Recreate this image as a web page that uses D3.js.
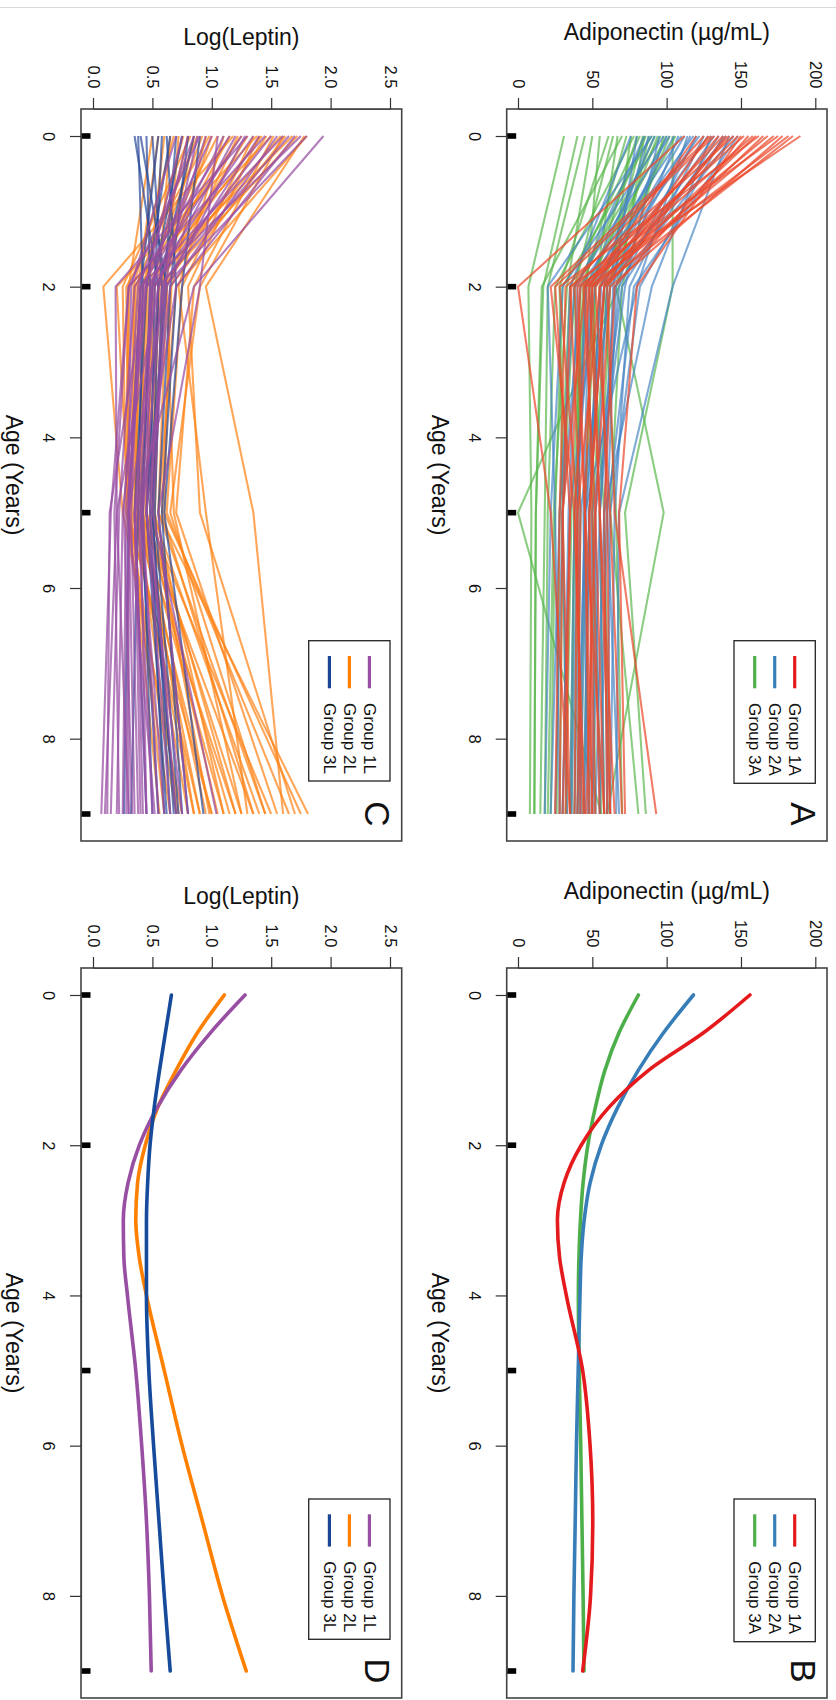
<!DOCTYPE html>
<html><head><meta charset="utf-8">
<script src="https://cdn.jsdelivr.net/npm/d3@7"></script>
<style>
body{margin:0;background:#fff}
svg{display:block}
text{font-family:"Liberation Sans",Arial,Helvetica,sans-serif;fill:#111}
</style>
</head><body>
<svg id="chart" width="836" height="1700"></svg>
<script>
// ---------------- DATA ----------------
const visitAges = [0, 2, 5, 9];
const ageTicks = [0, 2, 4, 6, 8];
const rugAges = [0, 2, 5, 9];
const adipoTicks = [0, 50, 100, 150, 200];
const adipoTickLabels = ["0", "50", "100", "150", "200"];
const leptinTicks = [0, 0.5, 1, 1.5, 2, 2.5];
const leptinTickLabels = ["0.0", "0.5", "1.0", "1.5", "2.0", "2.5"];

const adipoGroups = ["Group 1A", "Group 2A", "Group 3A"];
const leptinGroups = ["Group 1L", "Group 2L", "Group 3L"];

// individual trajectories: values at visitAges
const group1A = [
  [190,40,45,50],[185,55,60,62],[182,48,38,45],[178,62,52,58],[175,35,42,40],
  [172,50,55,65],[168,45,30,35],[165,58,48,52],[162,28,40,38],[160,52,62,70],
  [158,42,35,30],[155,65,58,60],[152,38,45,48],[150,80,68,72],[148,46,50,55],
  [145,32,28,25],[142,55,40,42],[140,60,65,93],[138,44,52,46],[135,50,45,58],
  [132,25,35,32],[128,58,48,50],[125,36,30,28],[120,48,55,62],[112,0,22,35],
  [130,22,38,44]
];
const group2A = [
  [148,78,60,55],[145,65,55,50],[142,104,68,66],[140,58,45,40],[138,82,62,60],
  [135,70,50,48],[132,62,42,38],[130,90,58,52],[128,55,48,45],[125,75,65,62],
  [122,50,38,35],[120,68,55,58],[118,45,40,42],[116,60,52,50],[114,80,45,40],
  [112,52,35,30],[110,42,30,25],[108,66,60,68],[105,48,44,47],[102,38,28,22],
  [100,58,48,44],[98,30,22,18],[95,72,52,55],[92,46,40,36],[90,20,25,28],
  [88,56,46,42],[85,40,34,30],[80,64,58,60],[76,35,30,33]
];
const group3A = [
  [106,52,45,48],[104,104,72,86],[102,60,50,52],[100,45,38,35],[98,70,62,81],
  [96,38,30,28],[94,55,48,44],[92,48,58,62],[90,30,25,22],[88,66,98,60],
  [86,42,40,38],[84,58,66,70],[85,68,0,56],[82,35,28,26],[80,50,45,42],
  [78,25,20,18],[76,62,55,58],[73,44,36,32],[70,16,12,11],[67,52,50,56],
  [64,38,42,40],[61,28,30,33],[55,46,38,36],[50,33,24,20],[45,20,18,15],
  [40,17,12,11],[31,7,9,8]
];

const group1L = [
  [1.94,0.85,0.35,0.45],[1.80,0.60,0.30,0.30],[1.75,0.45,0.25,0.20],[1.70,0.70,0.40,0.60],
  [1.65,0.55,0.20,0.10],[1.60,0.40,0.30,0.35],[1.55,0.65,0.45,0.75],[1.50,0.50,0.35,0.40],
  [1.45,0.30,0.15,0.07],[1.40,0.58,0.42,0.55],[1.35,0.45,0.28,0.25],[1.30,0.19,0.20,0.30],
  [1.28,0.62,0.50,1.04],[1.25,0.40,0.32,0.38],[1.20,0.52,0.38,0.50],[1.15,0.35,0.22,0.15],
  [1.10,0.48,0.45,0.65],[1.05,0.90,0.55,0.80],[1.00,0.42,0.30,0.28],[0.95,0.55,0.40,0.45],
  [0.90,0.30,0.18,0.22],[0.88,0.60,0.48,0.70],[0.85,0.38,0.26,0.33],[0.80,0.50,0.36,0.42],
  [0.75,0.44,0.14,0.12],[0.70,0.32,0.30,0.52]
];
const group2L = [
  [1.80,0.70,0.55,1.81],[1.78,0.95,1.35,1.60],[1.72,0.55,0.45,1.50],[1.68,0.40,0.35,1.20],
  [1.62,0.65,0.60,1.75],[1.58,0.50,0.40,1.35],[1.52,0.85,0.70,1.55],[1.50,0.30,0.28,1.00],
  [1.46,0.60,0.50,1.40],[1.42,0.45,0.38,1.10],[1.38,0.20,0.30,0.90],[1.35,0.75,0.62,1.65],
  [1.30,0.52,0.44,1.25],[1.25,0.35,0.33,0.85],[1.22,0.62,0.55,1.45],[1.18,0.087,0.25,0.75],
  [1.15,0.48,0.42,1.15],[1.10,0.72,0.95,1.30],[1.05,0.40,0.36,1.00],[1.00,0.56,0.48,1.20],
  [0.98,0.28,0.30,0.70],[0.95,0.66,0.58,1.35],[0.92,0.44,0.40,0.95],[0.88,0.36,0.35,0.80],
  [0.85,0.58,0.52,1.10],[0.82,0.25,0.28,0.65],[0.80,0.50,0.45,1.05],[0.76,0.42,0.38,0.90],
  [0.72,0.62,0.68,1.25],[0.68,0.34,0.32,0.60],[0.65,0.55,0.50,0.98],[0.60,0.46,0.42,0.85],
  [0.55,0.38,0.36,0.72],[0.50,0.30,0.30,0.56],[1.40,0.80,0.90,1.70],[1.60,0.90,0.65,1.45]
];
const group3L = [
  [0.90,0.75,0.60,0.93],[0.85,0.55,0.45,0.70],[0.80,0.65,0.55,0.80],[0.75,0.50,0.40,0.55],
  [0.70,0.60,0.50,0.65],[0.65,0.45,0.35,0.45],[0.62,0.70,0.58,0.75],[0.58,0.52,0.48,0.60],
  [0.55,0.40,0.30,0.26],[0.50,0.58,0.52,0.72],[0.45,0.48,0.42,0.50],[0.40,0.62,0.45,0.62],
  [0.38,0.42,0.38,0.32],[0.35,0.55,0.50,0.68]
];

// fitted mean curves
const fitAges = [0, 0.5, 1, 1.5, 2, 2.5, 3, 3.5, 4, 5, 6, 7, 8, 9];
const fit1A = [156, 125, 88, 61, 42.5, 31, 26.5, 28, 32.5, 43.5, 48.5, 50.3, 48.8, 43.5];
const fit2A = [118, 98, 81, 67, 56, 48.5, 44.5, 42.5, 41.7, 40.5, 39.3, 38.5, 37.6, 37];
const fit3A = [81, 68, 58.5, 52, 47, 43.8, 42, 41, 40.6, 41.2, 42.2, 43, 43.8, 44.4];
const fit1L = [1.28, 0.99, 0.74, 0.54, 0.39, 0.295, 0.255, 0.26, 0.29, 0.36, 0.41, 0.45, 0.475, 0.49];
const fit2L = [1.105, 0.88, 0.70, 0.545, 0.44, 0.375, 0.36, 0.39, 0.45, 0.60, 0.75, 0.92, 1.09, 1.29];
const fit3L = [0.66, 0.61, 0.56, 0.515, 0.48, 0.46, 0.45, 0.45, 0.45, 0.47, 0.51, 0.555, 0.60, 0.65];

// ---------------- DRAWING ----------------
const svg = d3.select("#chart");
svg.append("line").attr("x1",0).attr("x2",836).attr("y1",7.5).attr("y2",7.5)
  .attr("stroke","#d9d9d9").attr("stroke-width",1);

const FONT_TICK = 16.5;

function panel(cfg) {
  const g = svg.append("g");
  const x = d3.scaleLinear().domain(cfg.valDomain).range(cfg.valRange);
  const y = d3.scaleLinear().domain([0, 9]).range([cfg.top + 27, cfg.bottom - 27]);
  const [L, R, T, B] = [cfg.left, cfg.right, cfg.top, cfg.bottom];

  const clip = "clip" + cfg.letter;
  g.append("clipPath").attr("id", clip).append("rect")
    .attr("x", L).attr("y", T).attr("width", R - L).attr("height", B - T);
  const lg = g.append("g").attr("clip-path", `url(#${clip})`);

  if (cfg.spaghetti) {
    const line = d3.line().x(d => x(d[1])).y(d => y(d[0]));
    cfg.spaghetti.forEach(s => {
      lg.append("g").selectAll("path").data(s.data).join("path")
        .attr("d", row => line(row.map((v, i) => [visitAges[i], v])))
        .attr("fill", "none").attr("stroke", s.color)
        .attr("stroke-opacity", s.opacity).attr("stroke-width", 2.1)
        .attr("stroke-linejoin", "round");
    });
  }
  if (cfg.fits) {
    const line = d3.line().curve(d3.curveMonotoneY)
      .x(d => x(d[1])).y(d => y(d[0]));
    cfg.fits.forEach(f => {
      lg.append("path").attr("d", line(fitAges.map((a, i) => [a, f.data[i]])))
        .attr("fill", "none").attr("stroke", f.color).attr("stroke-width", 3.6)
        .attr("stroke-linecap", "round");
    });
  }

  // rug marks
  g.append("g").selectAll("rect").data(rugAges).join("rect")
    .attr("x", L).attr("y", d => y(d) - 2.8).attr("width", 9.5).attr("height", 5.6)
    .attr("fill", "#000");

  // box
  g.append("rect").attr("x", L).attr("y", T).attr("width", R - L).attr("height", B - T)
    .attr("fill", "none").attr("stroke", "#444").attr("stroke-width", 1.6);

  // value axis (top)
  const ax = d3.axisTop(x).tickValues(cfg.ticks).tickSize(11).tickSizeOuter(0)
    .tickFormat((d, i) => cfg.tickLabels[i]);
  const axg = g.append("g").attr("transform", `translate(0,${T})`).call(ax);
  axg.select(".domain").attr("stroke", "#444").attr("stroke-width", 1.2);
  axg.selectAll(".tick line").attr("stroke", "#333").attr("stroke-width", 1.2);
  axg.selectAll(".tick text").attr("x", 0).attr("y", 0).attr("dy", null)
    .attr("transform", "translate(0,-20.5) rotate(90)")
    .attr("text-anchor", "end").attr("dominant-baseline", "central")
    .style("font-size", FONT_TICK + "px").style("font-family", '"Liberation Sans",Arial,sans-serif')
    .attr("fill", "#111");

  // age axis (left)
  const ay = d3.axisLeft(y).tickValues(ageTicks).tickSize(11).tickSizeOuter(0);
  const ayg = g.append("g").attr("transform", `translate(${L},0)`).call(ay);
  ayg.select(".domain").attr("stroke", "#444").attr("stroke-width", 1.2);
  ayg.selectAll(".tick line").attr("stroke", "#333").attr("stroke-width", 1.2);
  ayg.selectAll(".tick text").attr("x", 0).attr("y", 0).attr("dy", null)
    .attr("transform", "translate(-32.2,0) rotate(90)")
    .attr("text-anchor", "middle").attr("dominant-baseline", "central")
    .style("font-size", FONT_TICK + "px").style("font-family", '"Liberation Sans",Arial,sans-serif')
    .attr("fill", "#111");

  // titles
  g.append("text").attr("x", (L + R) / 2).attr("y", T - cfg.titleOffset)
    .attr("text-anchor", "middle").style("font-size", "23px").text(cfg.title);
  g.append("text").attr("transform", `translate(${L - 75.2},${(T + B) / 2}) rotate(90)`)
    .attr("text-anchor", "middle").style("font-size", "23px").text("Age (Years)");

  // legend
  const lgX = R - cfg.legendRightGap, lgW = 81.3, lgY = T + cfg.legendTop, lgH = cfg.legendH;
  g.append("rect").attr("x", lgX - lgW).attr("y", lgY).attr("width", lgW).attr("height", lgH)
    .attr("fill", "#fff").attr("stroke", "#222").attr("stroke-width", 1.3);
  cfg.legend.forEach((it, i) => {
    const cx = lgX - 20.6 - i * 20;
    g.append("line").attr("x1", cx).attr("x2", cx).attr("y1", lgY + 15.3).attr("y2", lgY + 47.6)
      .attr("stroke", it.color).attr("stroke-width", 3.2);
    g.append("text").attr("transform", `translate(${cx},${lgY + 62.3}) rotate(90)`)
      .attr("text-anchor", "start").attr("dominant-baseline", "central")
      .style("font-size", "17px").text(it.name);
  });

  // panel letter
  g.append("text").attr("transform", `translate(${R - 24},${y(9)}) rotate(90)`)
    .attr("text-anchor", "middle").attr("dominant-baseline", "central")
    .style("font-size", "35px").text(cfg.letter);
}

const adipoDomain = [0, 200], leptinDomain = [0, 2.5];
const adipoRange = [518, 815.3], leptinRange = [93, 390];

panel({
  letter: "A", left: 506.7, right: 827, top: 109, bottom: 841,
  valDomain: adipoDomain, valRange: adipoRange, ticks: adipoTicks, tickLabels: adipoTickLabels,
  title: "Adiponectin (\u00b5g/mL)", titleOffset: 69.5,
  legendRightGap: 11.7, legendTop: 531.7, legendH: 142.6,
  spaghetti: [
    { data: group3A, color: "#55b548", opacity: 0.68 },
    { data: group2A, color: "#4683c4", opacity: 0.68 },
    { data: group1A, color: "#ec4a2c", opacity: 0.72 }
  ],
  legend: [
    { name: adipoGroups[0], color: "#e41a1c" },
    { name: adipoGroups[1], color: "#377eb8" },
    { name: adipoGroups[2], color: "#4daf4a" }
  ]
});
panel({
  letter: "B", left: 506.7, right: 827, top: 968, bottom: 1698,
  valDomain: adipoDomain, valRange: adipoRange, ticks: adipoTicks, tickLabels: adipoTickLabels,
  title: "Adiponectin (\u00b5g/mL)", titleOffset: 69.5,
  legendRightGap: 11.7, legendTop: 531, legendH: 142.7,
  fits: [
    { data: fit3A, color: "#4daf4a" },
    { data: fit2A, color: "#377eb8" },
    { data: fit1A, color: "#e41a1c" }
  ],
  legend: [
    { name: adipoGroups[0], color: "#e41a1c" },
    { name: adipoGroups[1], color: "#377eb8" },
    { name: adipoGroups[2], color: "#4daf4a" }
  ]
});
panel({
  letter: "C", left: 81, right: 401.7, top: 109, bottom: 841,
  valDomain: leptinDomain, valRange: leptinRange, ticks: leptinTicks, tickLabels: leptinTickLabels,
  title: "Log(Leptin)", titleOffset: 64.5,
  legendRightGap: 11.7, legendTop: 531.7, legendH: 140.3,
  spaghetti: [
    { data: group2L, color: "#ff8418", opacity: 0.72 },
    { data: group3L, color: "#27479a", opacity: 0.7 },
    { data: group1L, color: "#984ea3", opacity: 0.72 }
  ],
  legend: [
    { name: leptinGroups[0], color: "#984ea3" },
    { name: leptinGroups[1], color: "#ff7f00" },
    { name: leptinGroups[2], color: "#1a4495" }
  ]
});
panel({
  letter: "D", left: 81, right: 401.7, top: 968, bottom: 1698,
  valDomain: leptinDomain, valRange: leptinRange, ticks: leptinTicks, tickLabels: leptinTickLabels,
  title: "Log(Leptin)", titleOffset: 64.5,
  legendRightGap: 11.7, legendTop: 531, legendH: 140.3,
  fits: [
    { data: fit2L, color: "#ff7f00" },
    { data: fit1L, color: "#984ea3" },
    { data: fit3L, color: "#164a9b" }
  ],
  legend: [
    { name: leptinGroups[0], color: "#984ea3" },
    { name: leptinGroups[1], color: "#ff7f00" },
    { name: leptinGroups[2], color: "#1a4495" }
  ]
});
</script>
</body></html>
